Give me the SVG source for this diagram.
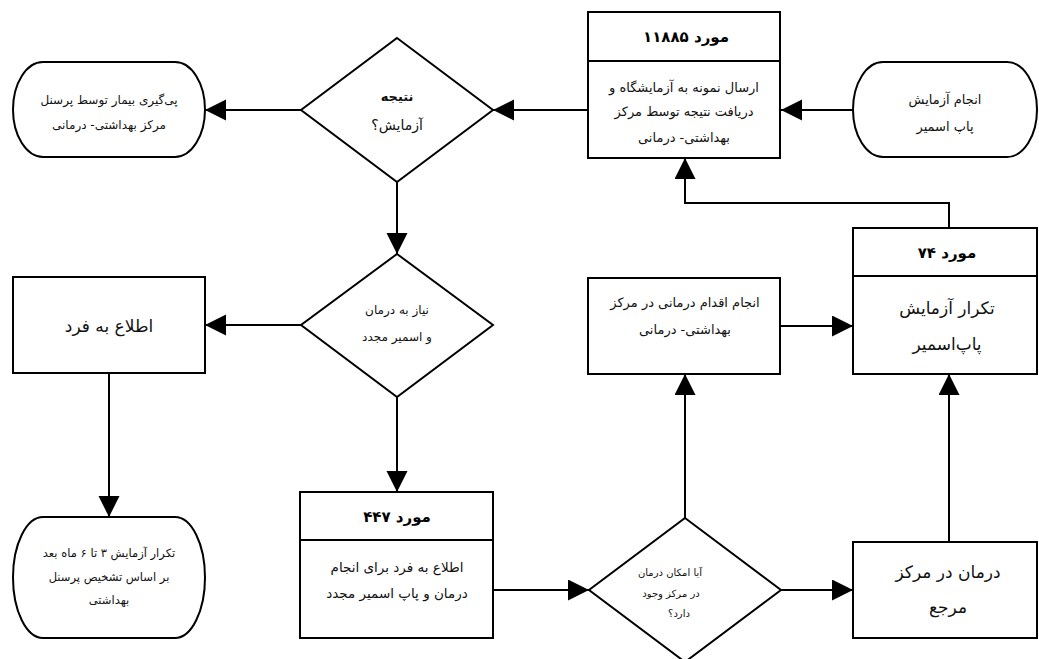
<svg xmlns="http://www.w3.org/2000/svg" width="1039" height="659" viewBox="0 0 1039 659">
<style>
.s{fill:#fff;stroke:#000;stroke-width:2}
.c{fill:none;stroke:#000;stroke-width:2}
text{font-family:"DejaVu Sans",sans-serif;fill:#111;text-anchor:middle}
.h{font-weight:bold;font-size:15px;fill:#000}
.m{font-size:13px}
.sm{font-size:12px}
.g{font-size:11.5px}
.xs{font-size:10px}
.l{font-size:17px}
</style>
<defs>
<marker id="ah" markerUnits="userSpaceOnUse" markerWidth="22" markerHeight="22" refX="21" refY="10.5" orient="auto">
<path d="M0,0 L21,10.5 L0,21 Z" fill="#000"/>
</marker>
</defs>
<rect width="1039" height="659" fill="#fff"/>
<g id="connectors">
<path class="c" d="M853,110 L781,110" marker-end="url(#ah)"/>
<path class="c" d="M588,110 L493,110" marker-end="url(#ah)"/>
<path class="c" d="M301,110 L205,110" marker-end="url(#ah)"/>
<path class="c" d="M397,182 L397,254" marker-end="url(#ah)"/>
<path class="c" d="M301,325 L205,325" marker-end="url(#ah)"/>
<path class="c" d="M109,373 L109,517" marker-end="url(#ah)"/>
<path class="c" d="M397,397 L397,492" marker-end="url(#ah)"/>
<path class="c" d="M493,590 L589,590" marker-end="url(#ah)"/>
<path class="c" d="M781,590 L853,590" marker-end="url(#ah)"/>
<path class="c" d="M685,518 L685,374" marker-end="url(#ah)"/>
<path class="c" d="M780,326 L853,326" marker-end="url(#ah)"/>
<path class="c" d="M949,542 L949,374" marker-end="url(#ah)"/>
<path class="c" d="M949,228 L949,203 L685,203 L685,158" marker-end="url(#ah)"/>
</g>
<g id="nodeA">
<rect class="s" x="588" y="12" width="192" height="146"/>
<line class="c" x1="588" y1="61" x2="780" y2="61"/>
<text class="h" x="686" y="42">۱۱۸۸۵ مورد</text>
<text class="m" x="684" y="92">ارسال نمونه به آزمایشگاه و</text>
<text class="m" x="684" y="116">دریافت نتیجه توسط مرکز</text>
<text class="m" x="684" y="142">بهداشتی- درمانی</text>
</g>
<g id="nodeB">
<rect class="s" x="853" y="62" width="184" height="95" rx="30" ry="47.5"/>
<text class="m" x="945" y="104">انجام آزمایش</text>
<text class="m" x="945" y="131">پاپ اسمیر</text>
</g>
<g id="nodeC">
<polygon class="s" points="397,38 493,110 397,182 301,110"/>
<text class="m" style="font-weight:bold" x="397" y="101">نتیجه</text>
<text style="font-size:14px" x="397" y="130">آزمایش؟</text>
</g>
<g id="nodeD">
<rect class="s" x="13" y="62" width="192" height="95" rx="30" ry="47.5"/>
<text class="sm" x="109" y="104">پی‌گیری بیمار توسط پرسنل</text>
<text class="sm" x="109" y="129">مرکز بهداشتی- درمانی</text>
</g>
<g id="nodeE">
<polygon class="s" points="397,254 493,325 397,397 301,325"/>
<text class="sm" x="397" y="314">نیاز به درمان</text>
<text class="sm" x="397" y="341">و اسمیر مجدد</text>
</g>
<g id="nodeF">
<rect class="s" x="13" y="277" width="192" height="96"/>
<text class="l" x="109" y="332">اطلاع به فرد</text>
</g>
<g id="nodeG">
<rect class="s" x="13" y="517" width="192" height="121" rx="30" ry="60.5"/>
<text class="g" x="109" y="557">تکرار آزمایش ۳ تا ۶ ماه بعد</text>
<text class="g" x="109" y="581">بر اساس تشخیص پرسنل</text>
<text class="g" x="109" y="604">بهداشتی</text>
</g>
<g id="nodeH">
<rect class="s" x="300" y="492" width="193" height="146"/>
<line class="c" x1="300" y1="540" x2="493" y2="540"/>
<text class="h" x="397" y="522">۴۴۷ مورد</text>
<text style="font-size:13.5px" x="397" y="572">اطلاع به فرد برای انجام</text>
<text style="font-size:13.5px" x="397" y="598">درمان و پاپ اسمیر مجدد</text>
</g>
<g id="nodeI">
<polygon class="s" points="685,518 781,590 685,662 589,590"/>
<text class="xs" x="670" y="576">آیا امکان درمان</text>
<text class="xs" x="671" y="597">در مرکز وجود</text>
<text class="xs" x="679" y="617">دارد؟</text>
</g>
<g id="nodeJ">
<rect class="s" x="853" y="542" width="184" height="96"/>
<text class="l" x="948" y="578">درمان در مرکز</text>
<text class="l" x="948" y="613">مرجع</text>
</g>
<g id="nodeK">
<rect class="s" x="588" y="278" width="192" height="96"/>
<text class="m" x="685" y="307">انجام اقدام درمانی در مرکز</text>
<text class="m" x="685" y="334">بهداشتی- درمانی</text>
</g>
<g id="nodeL">
<rect class="s" x="853" y="228" width="184" height="146"/>
<line class="c" x1="853" y1="276" x2="1037" y2="276"/>
<text class="h" x="947" y="258">۷۴ مورد</text>
<text class="l" x="947" y="314">تکرار آزمایش</text>
<text class="l" x="947" y="350">پاپ‌اسمیر</text>
</g>
</svg>
